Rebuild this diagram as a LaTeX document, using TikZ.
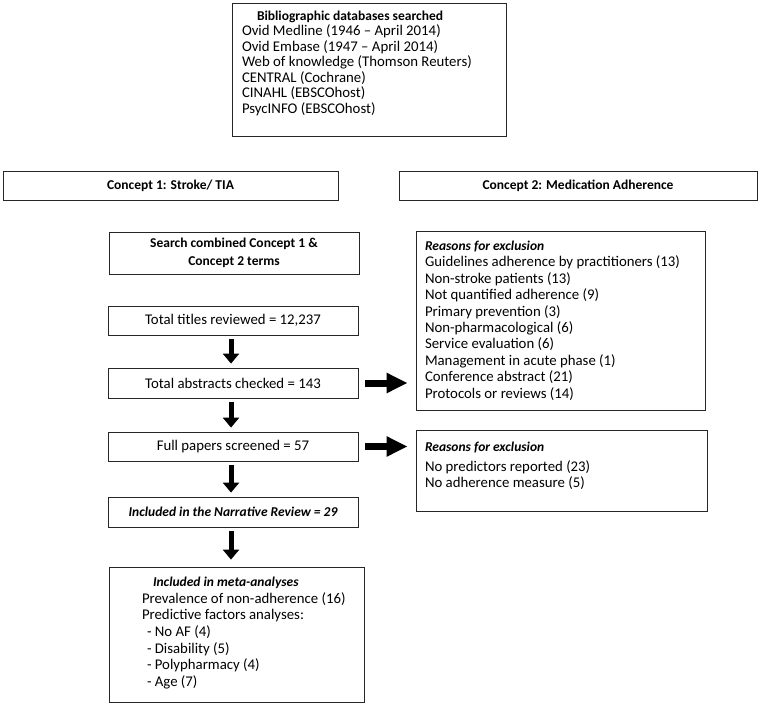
\documentclass[tikz,border=0pt]{standalone}
\usepackage{fontspec}
\setmainfont{Carlito}
\usetikzlibrary{arrows.meta}

\newcommand{\fsize}{\fontsize{14.8pt}{15.5pt}\selectfont}
\newcommand{\bsize}{\fontsize{13.5pt}{15.5pt}\selectfont\bfseries}
% list box filled from the top: height, width, left pad, top pad, lines
\newcommand{\toplines}[5]{\parbox[c][#1][t]{#2}{\raggedright\leftskip=#3\relax\vspace*{#4}#5}}

\begin{document}
\begin{tikzpicture}[x=1pt,y=-1pt,nodes={draw=black!85,line width=0.8pt,inner sep=0pt,font=\fsize}]
\tikzstyle{box}=[minimum width=250pt,minimum height=29pt]
\tikzstyle{bold}=[font=\bsize]
\tikzstyle{down}=[-{Triangle[length=10pt,width=16pt]},line width=5pt,shorten <=4pt,shorten >=4pt]
\tikzstyle{side}=[-{Triangle[length=21pt,width=19pt]},line width=7pt,shorten <=7pt,shorten >=8pt]
\useasboundingbox (0,0) rectangle (760,704);

\node (db) at (369,69.5) {\toplines{133pt}{274pt}{10pt}{8pt}{\fsize
  \hspace*{15pt}{\bsize Bibliographic databases searched}\\
  Ovid Medline (1946 -- April 2014)\\
  Ovid Embase (1947 -- April 2014)\\
  Web of knowledge (Thomson Reuters)\\
  CENTRAL (Cochrane)\\
  CINAHL (EBSCOhost)\\
  PsycINFO (EBSCOhost)}};

\node[box,bold,minimum width=335pt] (c1) at (170.5,185.5) {Concept 1: Stroke/ TIA};
\node[box,bold,minimum width=358pt] (c2) at (578,185.5) {Concept 2: Medication Adherence};

\node[box,bold,minimum height=42pt,align=center] (search) at (234,253) {Search combined Concept 1 \&\\[2pt] Concept 2 terms};
\node[box] (titles) at (233,320.5) {Total titles reviewed = 12,237};
\node[box,minimum height=30pt] (abstracts) at (233,383) {Total abstracts checked = 143};
\node[box] (full) at (233,446.5) {Full papers screened = 57};
\node[box,minimum height=30pt,font=\bsize\itshape] (narr) at (233,512) {Included in the Narrative Review = 29};

\node (meta) at (236.5,634.5) {\toplines{135pt}{255pt}{33pt}{10pt}{\fontsize{14.8pt}{16.7pt}\selectfont
  \hspace*{11pt}{\bsize\itshape Included in meta-analyses}\\
  Prevalence of non-adherence (16)\\
  Predictive factors analyses:\\
  \hspace*{5pt}- No AF (4)\\
  \hspace*{5pt}- Disability (5)\\
  \hspace*{5pt}- Polypharmacy (4)\\
  \hspace*{5pt}- Age (7)}};

\node (r1) at (560.5,320.5) {\toplines{179pt}{289pt}{9pt}{10pt}{\fontsize{14.8pt}{16.4pt}\selectfont
  {\bsize\itshape Reasons for exclusion}\\
  Guidelines adherence by practitioners (13)\\
  Non-stroke patients (13)\\
  Not quantified adherence (9)\\
  Primary prevention (3)\\
  Non-pharmacological (6)\\
  Service evaluation (6)\\
  Management in acute phase (1)\\
  Conference abstract (21)\\
  Protocols or reviews (14)}};

\node (r2) at (561.5,470.5) {\toplines{81pt}{291pt}{9pt}{12pt}{\fontsize{14.8pt}{16.4pt}\selectfont
  {\bsize\itshape Reasons for exclusion}\\[3.5pt]
  No predictors reported (23)\\
  No adherence measure (5)}};

\draw[down] ([xshift=-2pt]titles.south) -- ([xshift=-2pt]abstracts.north);
\draw[down] ([xshift=-2pt]abstracts.south) -- ([xshift=-2pt]full.north);
\draw[down] ([xshift=-2pt]full.south) -- ([xshift=-2pt]narr.north);
\draw[down,shorten >=7pt] ([xshift=-2pt]narr.south) -- ([xshift=-2pt]narr.south |- meta.north);

\draw[side] (abstracts) -- (abstracts -| r1.west);
\draw[side] (full) -- (full -| r2.west);
\end{tikzpicture}
\end{document}
